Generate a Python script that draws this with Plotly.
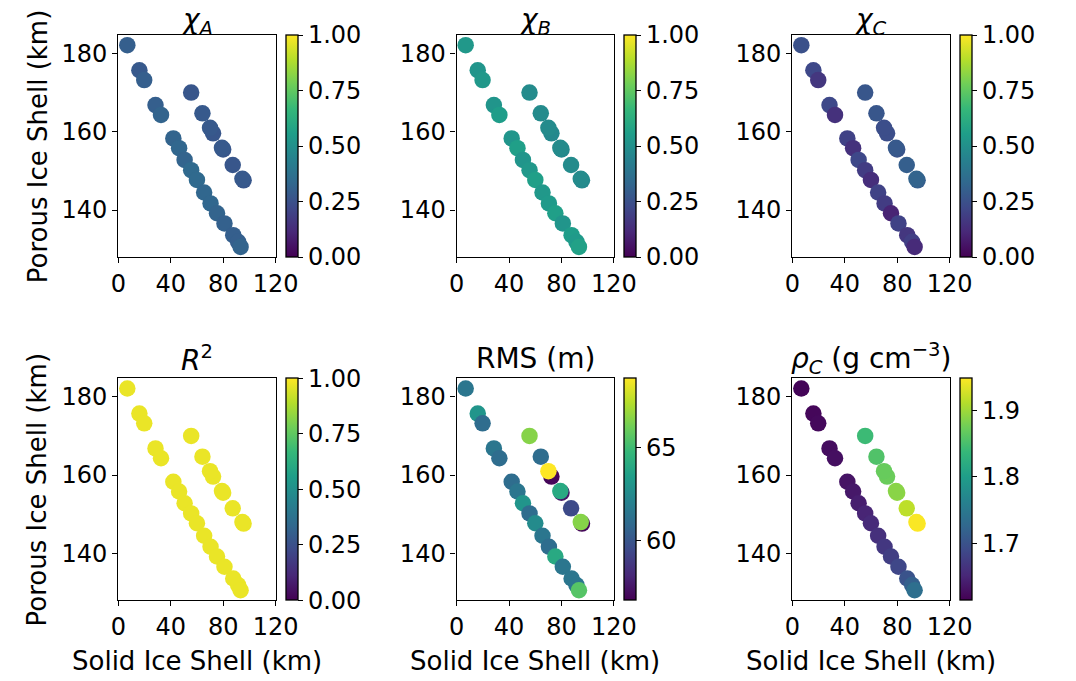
import plotly.graph_objects as go

W, H = 1076, 681
OFF = 8  # page body margin of the html page

# ---------------- data ----------------
solid_lower = [6.9, 16.1, 19.8, 28.4, 32.6, 42.0, 46.4, 50.6, 55.6, 60.0, 65.5, 70.4, 75.3, 81.0, 87.7, 91.4, 93.3]
porous_lower = [182.1, 175.7, 173.2, 166.8, 164.3, 158.3, 155.8, 152.8, 150.2, 147.7, 144.5, 141.7, 139.2, 136.6, 133.6, 131.9, 130.6]
solid_upper = [55.6, 64.2, 72.3, 70.0, 80.0, 79.1, 87.3, 95.6, 94.7]
porous_upper = [170.0, 164.7, 159.6, 161.0, 155.5, 155.9, 151.5, 147.6, 148.0]

chi_A = [0.30, 0.28, 0.30, 0.30, 0.32, 0.32, 0.33, 0.32, 0.34, 0.34, 0.33, 0.33, 0.32, 0.31, 0.30, 0.30, 0.32,
         0.27, 0.28, 0.27, 0.28, 0.27, 0.28, 0.27, 0.27, 0.28]
chi_B = [0.53, 0.52, 0.53, 0.52, 0.55, 0.52, 0.56, 0.52, 0.53, 0.56, 0.53, 0.54, 0.56, 0.52, 0.55, 0.54, 0.57,
         0.48, 0.48, 0.47, 0.48, 0.47, 0.48, 0.48, 0.47, 0.48]
chi_C = [0.25, 0.22, 0.16, 0.22, 0.14, 0.20, 0.14, 0.22, 0.18, 0.13, 0.20, 0.18, 0.10, 0.20, 0.16, 0.19, 0.12,
         0.27, 0.27, 0.24, 0.24, 0.26, 0.28, 0.30, 0.30, 0.32]
r2 = [0.97, 0.97, 0.97, 0.97, 0.97, 0.97, 0.97, 0.97, 0.97, 0.97, 0.97, 0.97, 0.97, 0.97, 0.97, 0.97, 0.97,
      0.97, 0.97, 0.97, 0.97, 0.97, 0.97, 0.97, 0.97, 0.97]
rms = [61.5, 63.0, 61.0, 61.5, 61.0, 61.0, 61.5, 63.0, 61.0, 62.5, 61.5, 61.0, 64.0, 61.5, 61.5, 61.5, 65.5,
       66.5, 61.0, 57.0, 68.7, 57.5, 64.0, 59.5, 57.0, 66.5]
rho_C = [1.618, 1.620, 1.622, 1.625, 1.627, 1.632, 1.636, 1.642, 1.648, 1.653, 1.660, 1.668, 1.676, 1.686, 1.700, 1.716, 1.735,
         1.841, 1.855, 1.871, 1.869, 1.890, 1.888, 1.915, 1.948, 1.946]

titles = ["<i>χ</i><sub><i>A</i></sub>", "<i>χ</i><sub><i>B</i></sub>", "<i>χ</i><sub><i>C</i></sub>",
          "<i>R</i><sup>2</sup>", "RMS (m)", "<i>ρ</i><sub><i>C</i></sub> (g cm<sup>−3</sup>)"]
color_sets = [chi_A, chi_B, chi_C, r2, rms, rho_C]
cranges = [(0, 1), (0, 1), (0, 1), (0, 1), (56.8, 68.7), (1.614, 1.948)]
cticks = [[0, 0.25, 0.5, 0.75, 1.0]] * 4 + [[60, 65], [1.7, 1.8, 1.9]]
cticktext = [["0.00", "0.25", "0.50", "0.75", "1.00"]] * 4 + [["60", "65"], ["1.7", "1.8", "1.9"]]
x_ticks = [0, 40, 80, 120]
y_ticks = [140, 160, 180]

xs = solid_lower + solid_upper
ys = porous_lower + porous_upper

# ---------------- layout (target pixels) ----------------
col_left = [113.3, 461.7, 807.3]
plot_w = 162
row_top = [35, 378.3]
plot_h = 221.7
cb_gap = 10.5
cb_thick = 12


def px(xt):
    return (xt - OFF) / W


def py(yt):
    return 1 - (yt - OFF) / H


FONT = "DejaVu Sans"
TICK = 24
TITLE = 28
LABEL = 26

fig = go.Figure()
annotations = []
for i in range(6):
    r, c = divmod(i, 3)
    x0 = px(col_left[c])
    x1 = px(col_left[c] + plot_w)
    y1 = py(row_top[r])
    y0 = py(row_top[r] + plot_h)
    ax = "" if i == 0 else str(i + 1)
    fig.add_trace(go.Scatter(
        x=xs, y=ys, mode="markers",
        xaxis="x" + ax, yaxis="y" + ax,
        marker=dict(
            size=16.5, color=color_sets[i], colorscale="Viridis",
            cmin=cranges[i][0], cmax=cranges[i][1], showscale=True, line=dict(width=0),
            colorbar=dict(
                x=px(col_left[c] + plot_w + cb_gap), xanchor="left",
                y=y1, yanchor="top", len=y1 - y0, lenmode="fraction",
                thickness=cb_thick, thicknessmode="pixels",
                xpad=0, ypad=0, outlinewidth=1.3, outlinecolor="black",
                ticks="outside", ticklen=5, tickwidth=1.3, tickcolor="black",
                tickvals=cticks[i], ticktext=cticktext[i],
                tickfont=dict(family=FONT, size=TICK, color="black"),
            ),
        ),
        showlegend=False,
    ))
    axis_common = dict(showline=True, mirror=True, linecolor="black", linewidth=1.3,
                       ticks="outside", ticklen=5, tickwidth=1.3, tickcolor="black",
                       showgrid=False, zeroline=False,
                       tickfont=dict(family=FONT, size=TICK, color="black"))
    fig.update_layout(**{
        "xaxis" + ax: dict(domain=[x0, x1], range=[0, 120], tickvals=x_ticks,
                           anchor="y" + ax, **axis_common),
        "yaxis" + ax: dict(domain=[y0, y1], range=[128.1, 184.7], tickvals=y_ticks,
                           anchor="x" + ax, **axis_common),
    })
    # panel title
    annotations.append(dict(
        text=titles[i], xref="paper", yref="paper",
        x=(x0 + x1) / 2, y=py(21 if r == 0 else 358), xanchor="center", yanchor="middle",
        showarrow=False, font=dict(family=FONT, size=TITLE, color="black")))
    if c == 0:
        annotations.append(dict(
            text="Porous Ice Shell (km)", xref="paper", yref="paper",
            x=px(30), y=(y0 + y1) / 2, xanchor="center", yanchor="middle", textangle=-90,
            showarrow=False, font=dict(family=FONT, size=LABEL, color="black")))
    if r == 1:
        annotations.append(dict(
            text="Solid Ice Shell (km)", xref="paper", yref="paper",
            x=(x0 + x1) / 2, y=py(661), xanchor="center", yanchor="middle",
            showarrow=False, font=dict(family=FONT, size=LABEL, color="black")))

fig.update_layout(
    width=W, height=H, margin=dict(l=0, r=0, t=0, b=0),
    paper_bgcolor="white", plot_bgcolor="white",
    annotations=annotations, font=dict(family=FONT, color="black"),
)

fig.write_html("out.html")
